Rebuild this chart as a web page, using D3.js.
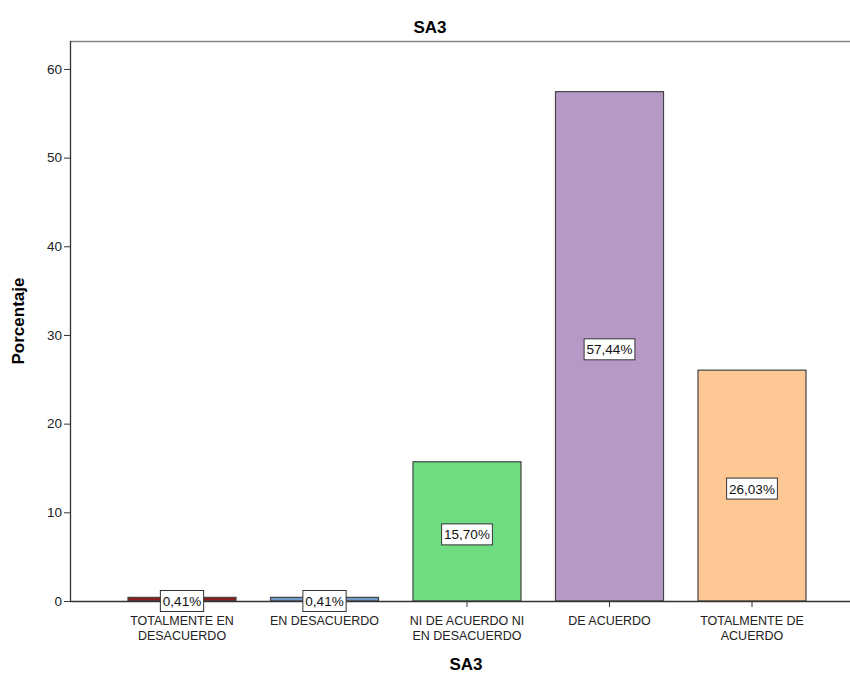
<!DOCTYPE html>
<html>
<head>
<meta charset="utf-8">
<script src="https://cdn.jsdelivr.net/npm/d3@7"></script>
<style>
  body { margin: 0; background: #fff; }
  svg text { font-family: Arial, "Liberation Sans", sans-serif; }
</style>
</head>
<body>
<svg id="chart" width="850" height="676"></svg>
<script>
// data
var categories = ["TOTALMENTE EN|DESACUERDO", "EN DESACUERDO", "NI DE ACUERDO NI|EN DESACUERDO", "DE ACUERDO", "TOTALMENTE DE|ACUERDO"];
var values = [0.41, 0.41, 15.70, 57.44, 26.03];
var labels = ["0,41%", "0,41%", "15,70%", "57,44%", "26,03%"];
var colors = ["#8e1c1c", "#6f9ccb", "#70dc82", "#b799c8", "#fec895"];
var yTicks = [0, 10, 20, 30, 40, 50, 60];

var svg = d3.select("#chart");
var plotLeft = 70, plotRight = 850, plotTop = 41, plotBottom = 601;

var x = d3.scaleBand()
    .domain(d3.range(categories.length))
    .range([110.75, 823.25])
    .paddingInner(0.242)
    .paddingOuter(0.121);
var y = d3.scaleLinear().domain([0, 63.15]).range([plotBottom, plotTop]);

// title
svg.append("text").attr("x", 430).attr("y", 33).attr("text-anchor", "middle")
    .attr("font-size", 17).attr("font-weight", "bold").text("SA3");

// frame top
svg.append("line").attr("x1", plotLeft).attr("x2", plotRight).attr("y1", plotTop + 0.5).attr("y2", plotTop + 0.5)
    .attr("stroke", "#888").attr("stroke-width", 1.5);

// bars
svg.selectAll(".bar").data(values).enter().append("rect")
    .attr("class", "bar")
    .attr("x", function (d, i) { return x(i); })
    .attr("width", x.bandwidth())
    .attr("y", function (d) { return y(d); })
    .attr("height", function (d) { return plotBottom - y(d); })
    .attr("fill", function (d, i) { return colors[i]; })
    .attr("stroke", "#444").attr("stroke-width", 1.2);

// y axis
var yAxis = svg.append("g").attr("transform", "translate(" + plotLeft + ",0)")
    .call(d3.axisLeft(y).tickValues(yTicks).tickSize(6).tickPadding(2).tickFormat(d3.format("d")));
yAxis.select(".domain").attr("d", "M0.5," + plotTop + "V" + plotBottom).attr("stroke", "#333").attr("stroke-width", 1.3);
yAxis.selectAll(".tick line").attr("stroke", "#333");
yAxis.selectAll(".tick text").attr("font-size", 13.5).attr("fill", "#222").attr("font-family", "Arial, 'Liberation Sans', sans-serif");

// x axis
var xAxis = svg.append("g").attr("transform", "translate(0," + plotBottom + ")")
    .call(d3.axisBottom(x).tickSize(6).tickFormat(""));
xAxis.select(".domain").attr("d", "M" + plotLeft + ",0.5H" + plotRight).attr("stroke", "#333").attr("stroke-width", 1.3);
xAxis.selectAll(".tick line").attr("stroke", "#333");

// category labels (one text per line)
categories.forEach(function (c, i) {
    c.split("|").forEach(function (line, j) {
        svg.append("text").attr("text-anchor", "middle").attr("font-size", 12.5).attr("fill", "#222")
            .attr("x", x(i) + x.bandwidth() / 2).attr("y", plotBottom + 24 + j * 14.5).text(line);
    });
});

// value labels
values.forEach(function (v, i) {
    var cx = x(i) + x.bandwidth() / 2;
    var cy = v < 2 ? plotBottom : y(v / 2) + 3;
    var t = svg.append("text").attr("x", cx).attr("y", cy + 5).attr("text-anchor", "middle")
        .attr("font-size", 13.5).attr("fill", "#111").text(labels[i]);
    var w = t.node().getComputedTextLength() + 5;
    svg.insert("rect", function () { return t.node(); })
        .attr("x", cx - w / 2).attr("y", cy - 10.5).attr("width", w).attr("height", 21)
        .attr("fill", "#fff").attr("stroke", "#333").attr("stroke-width", 1);
});

// axis titles
svg.append("text").attr("x", 466).attr("y", 670).attr("text-anchor", "middle")
    .attr("font-size", 17).attr("font-weight", "bold").text("SA3");
svg.append("text").attr("transform", "translate(24,321) rotate(-90)").attr("text-anchor", "middle")
    .attr("font-size", 17).attr("font-weight", "bold").text("Porcentaje");
</script>
</body>
</html>
